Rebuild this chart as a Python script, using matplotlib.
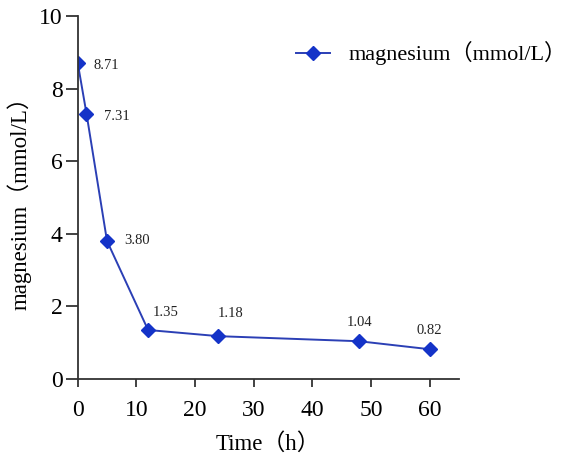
import matplotlib
matplotlib.use("Agg")
import matplotlib.pyplot as plt

time_h = [0, 1.5, 5, 12, 24, 48, 60]
magnesium = [8.71, 7.31, 3.80, 1.35, 1.18, 1.04, 0.82]
labels = ["8.71", "7.31", "3.80", "1.35", "1.18", "1.04", "0.82"]
x_ticks = [0, 10, 20, 30, 40, 50, 60]
y_ticks = [0, 2, 4, 6, 8, 10]

FAM = ['Liberation Serif', 'Noto Sans CJK SC']
plt.rcParams['font.family'] = FAM

fig = plt.figure(figsize=(5.67, 4.59), dpi=100)
ax = fig.add_axes([77.7/567, 1 - 379/459, (459-77.7)/567, (379-16)/459])

ax.plot(time_h, magnesium, color='#2b3fb5', lw=1.4, marker='D', ms=7,
        markerfacecolor='#1433c8', markeredgecolor='#1433c8',
        label='magnesium（mmol/L）')

# label offsets in pixels: (dx, dy, horizontal alignment)
offsets = [(16, -3, 'left'), (18, -3, 'left'), (17, 1, 'left'), (5, 17, 'left'),
           (-1, 23, 'left'), (0, 19, 'center'), (0, 19, 'center')]
for x, y, t, (dx, dy, ha) in zip(time_h, magnesium, labels, offsets):
    ax.annotate(t, (x, y), xytext=(dx, dy), textcoords='offset pixels',
                ha=ha, va='center', fontsize=10.5, color='#222222', family=FAM)

ax.set_xlim(0, 65)
ax.set_ylim(0, 10)
ax.set_xticks(x_ticks)
ax.set_yticks(y_ticks)
for s in ['top', 'right']:
    ax.spines[s].set_visible(False)
for s in ['left', 'bottom']:
    ax.spines[s].set_linewidth(1.3)
    ax.spines[s].set_color('#333333')
ax.tick_params(axis='y', direction='out', length=9, width=1.3, color='#333333',
               labelsize=17, pad=2)
ax.tick_params(axis='x', direction='out', length=6, width=1.3, color='#333333',
               labelsize=17, pad=9)
ax.set_xlabel('Time（h）', fontsize=16.5, labelpad=9)
ax.set_ylabel('magnesium（mmol/L）', fontsize=16.5, labelpad=5)

leg = ax.legend(loc='upper left', bbox_to_anchor=(0.52, 0.985), frameon=False,
                fontsize=16, handlelength=1.55, handletextpad=0.8)

fig.savefig('out.png', dpi=100)
